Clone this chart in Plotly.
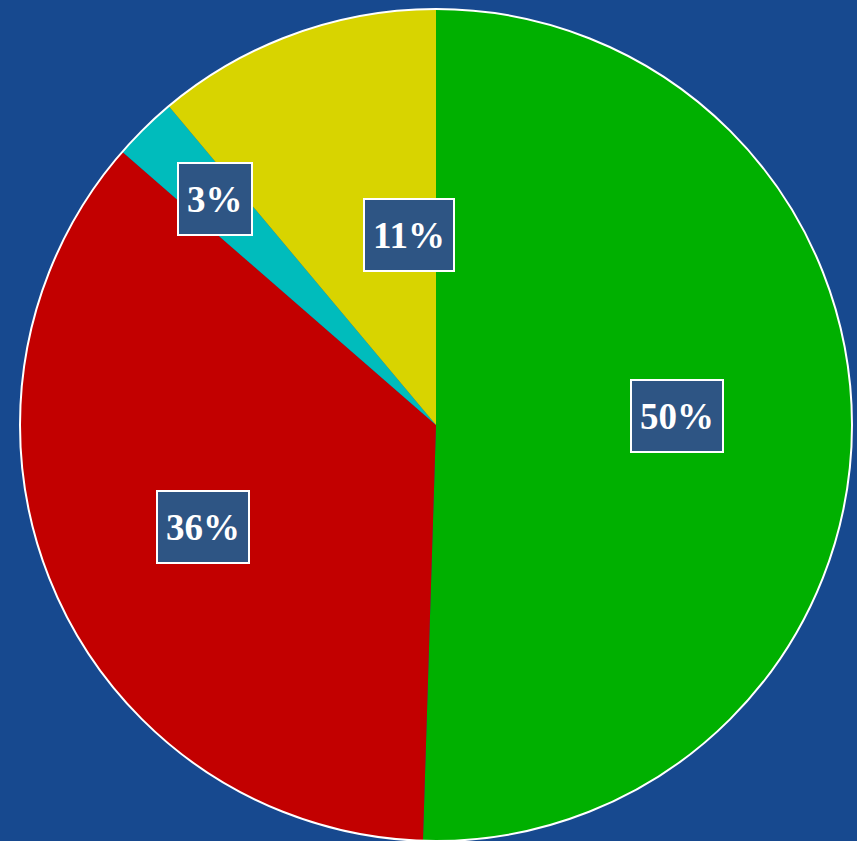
import math
import plotly.graph_objects as go

# Data
categories = ["A", "B", "C", "D"]
values = [50.5, 35.9, 2.5, 11.1]
label_texts = ["50%", "36%", "3%", "11%"]

# Styling
slice_colors = ["#00b000", "#c20000", "#00bcbc", "#d8d400"]
label_radius = [0.58, 0.61, 0.76, 0.46]
label_angle_offset = [-3.0, 0.0, 0.0, 12.0]

W, H = 857, 841
cx, cy, R = 436, 425, 416
dom_x = [(cx - R) / W, (cx + R) / W]
dom_y = [(H - cy - R) / H, (H - cy + R) / H]

fig = go.Figure()
fig.add_trace(go.Pie(
    labels=categories, values=values, sort=False, direction="clockwise",
    rotation=0, marker=dict(colors=slice_colors, line=dict(width=0)),
    textinfo="none", hoverinfo="label+percent", showlegend=False,
    domain=dict(x=dom_x, y=dom_y),
))
# white outer rim
fig.add_trace(go.Pie(
    labels=["rim"], values=[1], sort=False,
    marker=dict(colors=["rgba(0,0,0,0)"], line=dict(color="white", width=2)),
    textinfo="none", hoverinfo="skip", showlegend=False,
    domain=dict(x=dom_x, y=dom_y),
))

total = sum(values)
cum = 0.0
for v, txt, rf, off in zip(values, label_texts, label_radius, label_angle_offset):
    mid = (cum + v / 2) / total * 360.0 + off
    cum += v
    a = math.radians(mid)
    px = cx + rf * R * math.sin(a)
    py = cy - rf * R * math.cos(a)
    fig.add_annotation(
        x=px / W, y=(H - py) / H, xref="paper", yref="paper",
        xanchor="center", yanchor="middle",
        text="<b>" + txt + "</b>", showarrow=False, height=54,
        font=dict(family="Liberation Serif, Times New Roman, serif", size=37, color="white"),
        bgcolor="#2e5584", bordercolor="white", borderwidth=2, borderpad=8,
    )

fig.update_layout(
    width=W, height=H, margin=dict(l=0, r=0, t=0, b=0),
    paper_bgcolor="#17498f", plot_bgcolor="#17498f",
)
fig.write_html("out.html", config={"displayModeBar": False},
               post_script="document.body.style.margin='0';")
